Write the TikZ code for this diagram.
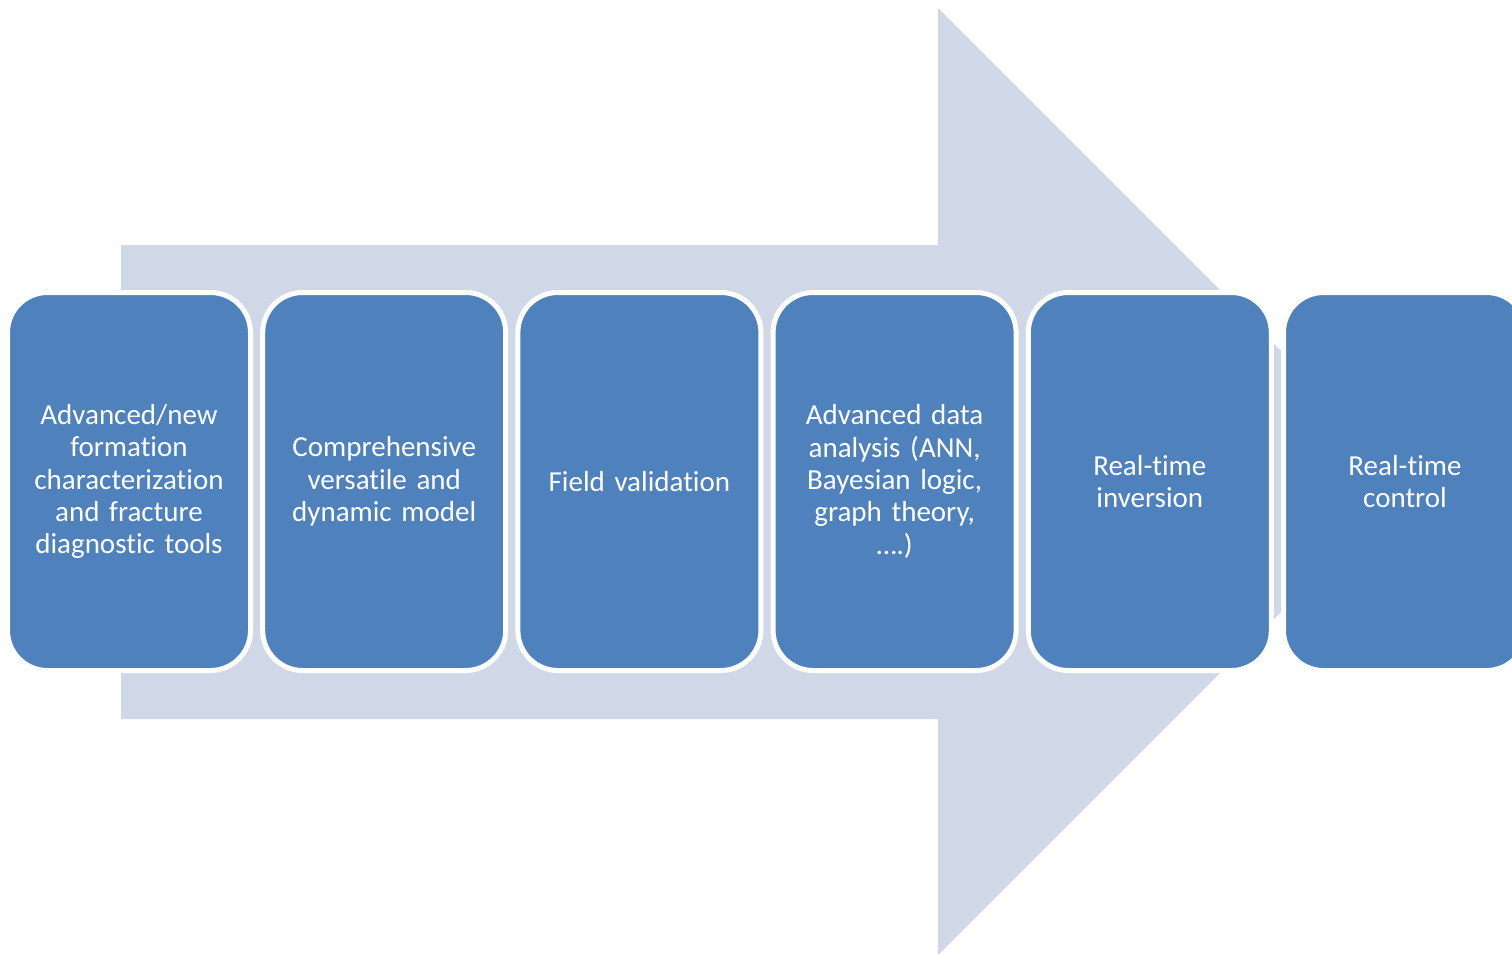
\documentclass[tikz,border=0pt]{standalone}
\usepackage{fontspec}
\setmainfont{Carlito}[Ligatures=NoCommon]
\definecolor{boxblue}{HTML}{4F81BD}
\definecolor{arrowgray}{HTML}{D0D8E8}
\tikzset{
  stagebox/.style={draw=white, line width=5pt, fill=boxblue, rounded corners=40pt,
    minimum width=243pt, minimum height=378pt, text width=236pt, align=center,
    text=white, inner sep=0pt, font=\fontsize{29}{32.3}\selectfont},
  bigarrow/.style={fill=arrowgray, draw=none}
}
\begin{document}
\begin{tikzpicture}[x=1pt,y=-1pt]
\useasboundingbox (0,0) rectangle (1512,955);
\clip (0,0) rectangle (1512,955);
\fill[bigarrow] (121,245) -- (938,245) -- (938,8) -- (1411.5,481.5) -- (938,955) -- (938,719) -- (121,719) -- cycle;
\node[stagebox] (b1) at (129,481.5) {Advanced/new\\formation\\characterization\\and fracture\\diagnostic tools};
\node[stagebox] (b2) at (384.2,481.5) {Comprehensive\\versatile and\\dynamic model};
\node[stagebox] (b3) at (639.4,481.5) {Field validation};
\node[stagebox] (b4) at (894.6,481.5) {Advanced data\\analysis (ANN,\\Bayesian logic,\\graph theory,\\….)};
\node[stagebox] (b5) at (1149.8,481.5) {Real-time\\inversion};
\node[stagebox] (b6) at (1405,481.5) {Real-time\\control};
\end{tikzpicture}
\end{document}
